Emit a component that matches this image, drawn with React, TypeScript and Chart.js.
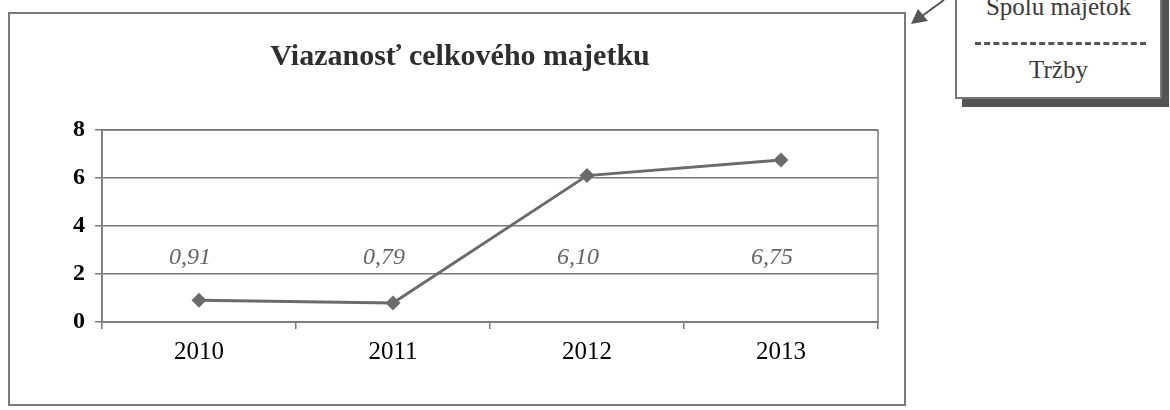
import React, { useEffect, useRef } from "react";
import { Chart, registerables } from "chart.js";

Chart.register(...registerables);

const categories = ["2010", "2011", "2012", "2013"];
const values = [0.91, 0.79, 6.1, 6.75];
const yMin = 0;
const yMax = 8;
const yStep = 2;
const chartTitle = "Viazanosť celkového majetku";
const calloutTop = "Spolu majetok";
const calloutBottom = "Tržby";

const SERIF = "'Liberation Serif', 'Times New Roman', serif";
const LABEL_LEVEL = 2.7;

const formatValue = (v: number) => v.toFixed(2).replace(".", ",");

const plotFramePlugin = {
  id: "plotFrame",
  beforeDatasetsDraw(chart: any) {
    const { ctx, chartArea } = chart;
    ctx.save();
    ctx.strokeStyle = "#7a7a7a";
    ctx.lineWidth = 1.5;
    ctx.strokeRect(chartArea.left, chartArea.top, chartArea.right - chartArea.left, chartArea.bottom - chartArea.top);
    ctx.restore();
  },
};

const titlePlugin = {
  id: "centeredTitle",
  afterDraw(chart: any) {
    const { ctx } = chart;
    ctx.save();
    ctx.font = `bold 30px ${SERIF}`;
    ctx.fillStyle = "#2e2e2e";
    ctx.textAlign = "center";
    ctx.textBaseline = "alphabetic";
    ctx.fillText(chartTitle, chart.width / 2 + 3, 52);
    ctx.restore();
  },
};

const dataLabelPlugin = {
  id: "dataLabels",
  afterDatasetsDraw(chart: any) {
    const { ctx } = chart;
    const meta = chart.getDatasetMeta(0);
    const yScale = chart.scales.y;
    const yPix = yScale.getPixelForValue(LABEL_LEVEL);
    ctx.save();
    ctx.font = `italic 24px ${SERIF}`;
    ctx.fillStyle = "#666666";
    ctx.textAlign = "center";
    ctx.textBaseline = "middle";
    meta.data.forEach((pt: any, i: number) => {
      ctx.fillText(formatValue(values[i]), pt.x - 9, yPix);
    });
    ctx.restore();
  },
};

export default function App() {
  const canvasRef = useRef<HTMLCanvasElement | null>(null);

  useEffect(() => {
    if (!canvasRef.current) return;
    const chart = new Chart(canvasRef.current, {
      type: "line",
      data: {
        labels: categories,
        datasets: [
          {
            data: values,
            borderColor: "#6b6b6b",
            backgroundColor: "#6b6b6b",
            borderWidth: 3,
            pointStyle: "rectRot",
            pointRadius: 7.5,
            pointBackgroundColor: "#6b6b6b",
            pointBorderColor: "#6b6b6b",
            pointBorderWidth: 0,
            tension: 0,
          },
        ],
      },
      options: {
        responsive: false,
        animation: false,
        layout: { padding: { left: 0, right: 27, top: 117, bottom: 0 } },
        plugins: {
          legend: { display: false },
          tooltip: { enabled: false },
          title: { display: false },
        },
        scales: {
          x: {
            offset: true,
            grid: {
              offset: true,
              drawOnChartArea: false,
              drawTicks: true,
              tickLength: 7,
              color: "#7a7a7a",
              lineWidth: 1.5,
            },
            border: { display: true, color: "#7a7a7a", width: 1.5 },
            ticks: {
              color: "#000000",
              font: { family: SERIF, size: 25 },
              padding: 8,
              maxRotation: 0,
            },
            afterFit(scale: any) {
              scale.height = 83;
            },
          },
          y: {
            min: yMin,
            max: yMax,
            ticks: {
              stepSize: yStep,
              color: "#000000",
              font: { family: SERIF, size: 24, weight: "bold" },
              padding: 10,
            },
            grid: {
              color: "#7a7a7a",
              lineWidth: 1.5,
              drawTicks: true,
              tickLength: 7,
            },
            border: { display: true, color: "#7a7a7a", width: 1.5 },
            afterFit(scale: any) {
              scale.width = 93;
            },
          },
        },
      },
      plugins: [plotFramePlugin, dataLabelPlugin, titlePlugin],
    });
    return () => chart.destroy();
  }, []);

  return (
    <div
      style={{
        position: "absolute",
        left: 0,
        top: 0,
        width: 1170,
        height: 410,
        overflow: "hidden",
        background: "#ffffff",
      }}
    >
      <div
        style={{
          position: "absolute",
          left: 8,
          top: 12,
          width: 898,
          height: 394,
          border: "2px solid #7a7a7a",
          boxSizing: "border-box",
        }}
      />
      <canvas
        ref={canvasRef}
        width={896}
        height={392}
        style={{ position: "absolute", left: 9, top: 13, width: 896, height: 392 }}
      />
      <div
        style={{
          position: "absolute",
          left: 955,
          top: -10,
          width: 207,
          height: 109,
          border: "2px solid #777777",
          boxSizing: "border-box",
          background: "#ffffff",
          boxShadow: "7px 8px 0 #555555",
          fontFamily: SERIF,
          color: "#3a3a3a",
          fontSize: 25,
          textAlign: "center",
        }}
      >
        <div style={{ position: "absolute", left: 0, right: 0, top: 1, lineHeight: "28px" }}>{calloutTop}</div>
        <div
          style={{
            position: "absolute",
            left: 18,
            right: 14,
            top: 50,
            borderTop: "3px dashed #555555",
          }}
        />
        <div style={{ position: "absolute", left: 0, right: 0, top: 64, lineHeight: "28px" }}>{calloutBottom}</div>
      </div>
      <svg
        width={1170}
        height={410}
        style={{ position: "absolute", left: 0, top: 0, pointerEvents: "none" }}
      >
        <line x1={944} y1={0} x2={922} y2={16} stroke="#555555" strokeWidth={2} />
        <polygon points="911,24 918,9 928,21" fill="#555555" />
      </svg>
    </div>
  );
}
